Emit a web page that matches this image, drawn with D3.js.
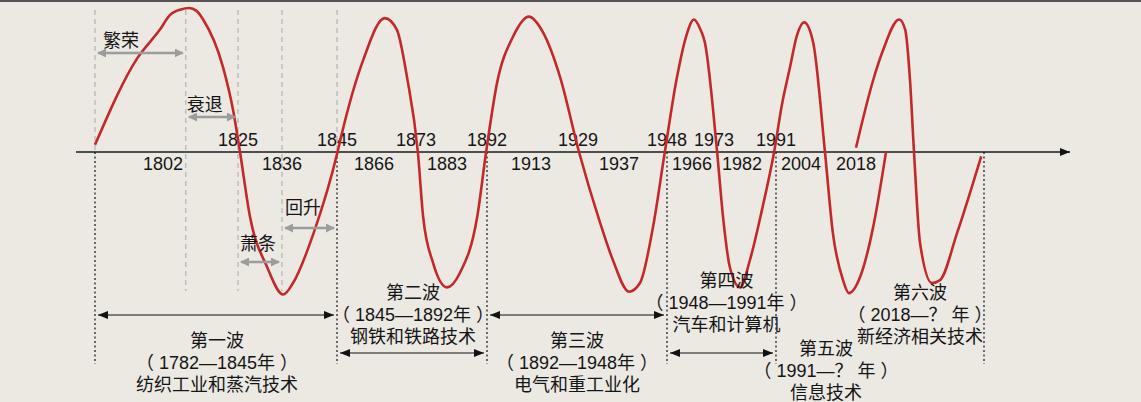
<!DOCTYPE html>
<html>
<head>
<meta charset="utf-8">
<script src="https://cdn.jsdelivr.net/npm/d3@7"></script>
<style>
body { margin: 0; background: #ece9e3; }
svg { display: block; }
text { font-family: "Liberation Sans", "Noto Sans CJK SC", sans-serif; font-size: 18px; fill: #151515; }
</style>
</head>
<body>
<div id="chart"></div>
<script>
// 年份刻度：轴上方（穿越点）与轴下方（峰/谷）
const aboveYears = [1825, 1845, 1873, 1892, 1929, 1948, 1973, 1991];
const belowYears = [1802, 1836, 1866, 1883, 1913, 1937, 1966, 1982, 2004, 2018];
// 各波的分界（虚线）
const boundaryYears = [1782, 1845, 1892, 1948, 1991, 2050];

// 长波曲线 [年份, 幅度]，第一波至第五波
const waveA = [
  [1782, 0.05], [1794.4, 0.65], [1801.1, 0.85], [1804.1, 0.95], [1807.5, 0.99],
  [1810, 1.0], [1812.3, 0.98], [1814.3, 0.92], [1820.4, 0.59], [1823.5, 0.29],
  [1825.5, 0], [1828, -0.45], [1832.3, -0.8], [1836.2, -0.99], [1837.8, -0.91],
  [1841.2, -0.56], [1845.3, 0],
  [1847.2, 0.1], [1859.9, 0.64], [1867.8, 0.93], [1869.8, 0.85], [1871.5, 0.52],
  [1873.6, 0], [1875.3, -0.45], [1878.5, -0.77], [1883, -0.94], [1885.9, -0.84],
  [1889.8, -0.45], [1891.8, 0],
  [1896.8, 0.48], [1904.4, 0.8], [1912, 0.94], [1917.1, 0.83], [1922.9, 0.52],
  [1929.2, 0], [1933.3, -0.49], [1935.8, -0.75], [1939.3, -0.97], [1941.8, -0.91],
  [1944.8, -0.52], [1947.5, 0],
  [1955.2, 0.52], [1961.7, 0.8], [1966.6, 0.92], [1968.5, 0.86], [1970.1, 0.76],
  [1974, 0], [1975.9, -0.45], [1978.1, -0.8], [1981.4, -0.94], [1984.1, -0.75],
  [1987.3, -0.4], [1990.5, 0],
  [1994.1, 0.33], [1998.3, 0.59], [2001.9, 0.81], [2004.8, 0.9], [2007.1, 0.76],
  [2010.1, 0], [2012.1, -0.56], [2014.7, -0.89], [2016.2, -0.98], [2019, -0.87],
  [2022.3, -0.52], [2025.5, 0]
];
// 第六波
const waveB = [
  [2018, 0.03], [2022.3, 0.5], [2024.8, 0.71], [2028.8, 0.92], [2030.3, 0.85],
  [2031.5, 0.5], [2032.5, 0], [2034, -0.63], [2037, -0.91], [2039, -0.89],
  [2043.3, -0.56], [2049.3, -0.03]
];

// 第一波的四个阶段
const phaseNames = ["繁荣", "衰退", "萧条", "回升"];
const phaseBounds = [1782, 1809, 1825, 1836, 1845];

// 六次长波
const waveNames = ["第一波", "第二波", "第三波", "第四波", "第五波", "第六波"];
const waveSpans = ["（ 1782—1845年 ）", "（ 1845—1892年 ）", "（ 1892—1948年 ）", "（ 1948—1991年 ）", "（ 1991—？ 年 ）", "（ 2018—？ 年 ）"];
const waveTechs = ["纺织工业和蒸汽技术", "钢铁和铁路技术", "电气和重工业化", "汽车和计算机", "信息技术", "新经济相关技术"];
const waveFrom = [1782, 1845, 1892, 1948, 1991, 2018];
const waveTo = [1845, 1892, 1948, 1991, 2025, 2050];

const width = 1141, height = 402;

let svg = d3.select("#chart").append("svg")
  .attr("width", width)
  .attr("height", height);

// 示意图的时间轴不是等距的
let x = d3.scaleLinear()
  .domain([1782, 1802, 1825, 1836, 1845, 1866, 1873, 1883, 1892, 1913, 1929, 1937, 1948, 1966, 1973, 1982, 1991, 2004, 2018, 2050])
  .range([95, 163, 238, 282, 337, 374, 416, 447, 487, 531, 578, 619, 667, 692, 714, 742, 776, 801, 856, 984]);

let y = d3.scaleLinear().domain([-1, 1]).range([296, 8]);
const axisY = y(0);

let defs = svg.append("defs");
defs.append("marker")
  .attr("id", "blackHead")
  .attr("viewBox", "0 0 10 8")
  .attr("refX", 10).attr("refY", 4)
  .attr("markerUnits", "userSpaceOnUse")
  .attr("markerWidth", 11).attr("markerHeight", 8)
  .attr("orient", "auto-start-reverse")
  .append("path").attr("d", "M0,0L10,4L0,8Z").attr("fill", "#111");
defs.append("marker")
  .attr("id", "grayHead")
  .attr("viewBox", "0 0 10 10")
  .attr("refX", 9).attr("refY", 5)
  .attr("markerUnits", "userSpaceOnUse")
  .attr("markerWidth", 9).attr("markerHeight", 9)
  .attr("orient", "auto-start-reverse")
  .append("path").attr("d", "M0,0L10,5L0,10Z").attr("fill", "#9c9c9c");

// top border
svg.append("rect").attr("x", 0).attr("y", 0).attr("width", width).attr("height", 2).attr("fill", "#545454");

// gray guides for wave 1 phases
svg.selectAll(".guide")
  .data(phaseBounds)
  .join("line")
  .attr("x1", d => x(d)).attr("x2", d => x(d))
  .attr("y1", 10)
  .attr("y2", (d, i) => (i === 0 || i === phaseBounds.length - 1) ? axisY : 291)
  .attr("stroke", "#a8a8a8")
  .attr("stroke-width", 1)
  .attr("stroke-dasharray", "5,4");

// black dotted wave boundaries
svg.selectAll(".bound")
  .data(boundaryYears)
  .join("line")
  .attr("x1", d => x(d)).attr("x2", d => x(d))
  .attr("y1", axisY).attr("y2", 364)
  .attr("stroke", "#111")
  .attr("stroke-width", 1.2)
  .attr("stroke-dasharray", "2,2.5");

// axis
svg.append("line")
  .attr("x1", 76).attr("x2", 1070)
  .attr("y1", axisY).attr("y2", axisY)
  .attr("stroke", "#1a1a1a").attr("stroke-width", 1.5)
  .attr("marker-end", "url(#blackHead)");

svg.selectAll(".above")
  .data(aboveYears)
  .join("text")
  .attr("x", d => x(d)).attr("y", axisY - 6)
  .attr("text-anchor", "middle")
  .text(d => d);

svg.selectAll(".below")
  .data(belowYears)
  .join("text")
  .attr("x", d => x(d)).attr("y", axisY + 18)
  .attr("text-anchor", "middle")
  .text(d => d);

// curve
let line = d3.line()
  .x(d => x(d[0]))
  .y(d => y(d[1]))
  .curve(d3.curveMonotoneX);

svg.selectAll(".wave")
  .data([waveA, waveB])
  .join("path")
  .attr("d", line)
  .attr("fill", "none")
  .attr("stroke", "#c3282b")
  .attr("stroke-width", 2.6)
  .attr("stroke-linecap", "butt");

// phase arrows (arrow y, label y, label dx)
const phaseLayout = [[53, 47, 8], [117, 111, 1], [262, 250, 2], [228, 214, 3]];
phaseNames.forEach((name, i) => {
  let x0 = x(phaseBounds[i]), x1 = x(phaseBounds[i + 1]);
  let [ay, ly, dx] = phaseLayout[i];
  svg.append("line")
    .attr("x1", x0 + 3).attr("x2", x1 - 3)
    .attr("y1", ay).attr("y2", ay)
    .attr("stroke", "#9c9c9c").attr("stroke-width", 2.5)
    .attr("marker-start", "url(#grayHead)")
    .attr("marker-end", "url(#grayHead)");
  svg.append("text")
    .attr("x", x0 + dx).attr("y", ly)
    .text(name);
});

// wave arrows (only first four)
const arrowY = [315, 353, 315, 353];
arrowY.forEach((ay, i) => {
  svg.append("line")
    .attr("x1", x(waveFrom[i]) + 3).attr("x2", x(waveTo[i]) - 3)
    .attr("y1", ay).attr("y2", ay)
    .attr("stroke", "#111").attr("stroke-width", 1)
    .attr("marker-start", "url(#blackHead)")
    .attr("marker-end", "url(#blackHead)");
});

// wave labels (top baseline, dx)
const textLayout = [[347, 1], [299, 1], [347, 0], [287, 5], [355, -4], [299, 0]];
waveNames.forEach((name, i) => {
  let cx = (x(waveFrom[i]) + x(waveTo[i])) / 2 + textLayout[i][1];
  let t = svg.append("text")
    .attr("text-anchor", "middle")
    .attr("y", textLayout[i][0]);
  [name, waveSpans[i], waveTechs[i]].forEach((s, j) => {
    t.append("tspan")
      .attr("x", cx)
      .attr("dy", j === 0 ? 0 : 22)
      .text(s);
  });
});
</script>
</body>
</html>
